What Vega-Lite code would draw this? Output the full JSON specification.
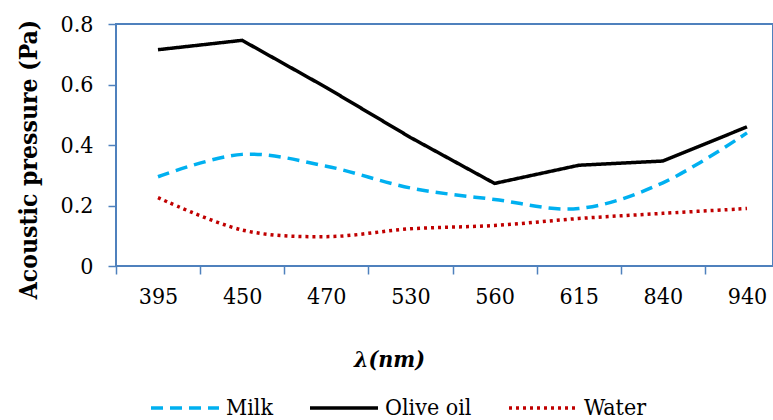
{
  "$schema": "https://vega.github.io/schema/vega-lite/v6.json",
  "width": 657,
  "height": 242,
  "autosize": {"type": "none"},
  "padding": {"left": 116, "top": 24, "right": 0, "bottom": 154},
  "background": "white",
  "config": {
    "view": {"stroke": "#4f81bd", "strokeWidth": 2},
    "font": "DejaVu Serif Condensed"
  },
  "data": {
    "values": [
      {"wavelength": "395", "series": "Olive oil", "pressure": 0.715},
      {"wavelength": "450", "series": "Olive oil", "pressure": 0.746},
      {"wavelength": "470", "series": "Olive oil", "pressure": 0.59},
      {"wavelength": "530", "series": "Olive oil", "pressure": 0.425},
      {"wavelength": "560", "series": "Olive oil", "pressure": 0.273},
      {"wavelength": "615", "series": "Olive oil", "pressure": 0.333},
      {"wavelength": "840", "series": "Olive oil", "pressure": 0.347},
      {"wavelength": "940", "series": "Olive oil", "pressure": 0.46},
      {"wavelength": "395", "series": "Milk", "pressure": 0.295},
      {"wavelength": "450", "series": "Milk", "pressure": 0.369},
      {"wavelength": "470", "series": "Milk", "pressure": 0.33},
      {"wavelength": "530", "series": "Milk", "pressure": 0.258},
      {"wavelength": "560", "series": "Milk", "pressure": 0.22},
      {"wavelength": "615", "series": "Milk", "pressure": 0.19},
      {"wavelength": "840", "series": "Milk", "pressure": 0.275},
      {"wavelength": "940", "series": "Milk", "pressure": 0.44},
      {"wavelength": "395", "series": "Water", "pressure": 0.226},
      {"wavelength": "450", "series": "Water", "pressure": 0.119},
      {"wavelength": "470", "series": "Water", "pressure": 0.097},
      {"wavelength": "530", "series": "Water", "pressure": 0.123},
      {"wavelength": "560", "series": "Water", "pressure": 0.134},
      {"wavelength": "615", "series": "Water", "pressure": 0.157},
      {"wavelength": "840", "series": "Water", "pressure": 0.174},
      {"wavelength": "940", "series": "Water", "pressure": 0.19}
    ]
  },
  "encoding": {
    "x": {
      "field": "wavelength",
      "type": "ordinal",
      "sort": ["395", "450", "470", "530", "560", "615", "840", "940"],
      "scale": {"type": "point", "range": [42, 631], "padding": 0},
      "axis": {
        "domain": false,
        "ticks": true,
        "tickColor": "#4f81bd",
        "tickWidth": 1.5,
        "tickSize": 8,
        "tickOffset": -42,
        "labelOffset": 42,
        "labelAngle": 0,
        "labelFontSize": 23,
        "labelColor": "black",
        "labelPadding": 11,
        "grid": false,
        "title": "λ(nm)",
        "titleFontSize": 23,
        "titleFontStyle": "italic",
        "titleFontWeight": "bold",
        "titleColor": "black",
        "titlePadding": 40,
        "titleX": 273
      }
    },
    "y": {
      "field": "pressure",
      "type": "quantitative",
      "scale": {"domain": [0, 0.8]},
      "axis": {
        "values": [0, 0.2, 0.4, 0.6, 0.8],
        "format": "~g",
        "domain": false,
        "grid": false,
        "tickColor": "#4f81bd",
        "tickWidth": 1.5,
        "tickSize": 8,
        "labelFontSize": 23,
        "labelColor": "black",
        "labelPadding": 15,
        "title": "Acoustic pressure (Pa)",
        "titleFontSize": 24.5,
        "titleFontWeight": "bold",
        "titleColor": "black",
        "titlePadding": 19,
        "titleY": 135
      }
    },
    "color": {
      "field": "series",
      "type": "nominal",
      "scale": {"domain": ["Milk", "Olive oil", "Water"], "range": ["#00b0f0", "#000000", "#c00000"]},
      "legend": {
        "orient": "none",
        "direction": "horizontal",
        "legendX": 33,
        "legendY": 348,
        "title": null,
        "symbolType": "stroke",
        "symbolSize": 4624,
        "symbolStrokeWidth": 3.5,
        "labelFontSize": 23,
        "labelColor": "black",
        "labelOffset": 5,
        "columnPadding": 30,
        "labelLimit": 300
      }
    },
    "strokeDash": {
      "field": "series",
      "type": "nominal",
      "scale": {"domain": ["Milk", "Olive oil", "Water"], "range": [[12, 7], [1, 0], [3, 4]]},
      "legend": null
    }
  },
  "layer": [
    {
      "transform": [{"filter": "datum.series === 'Olive oil'"}],
      "mark": {"type": "line", "strokeWidth": 3.5}
    },
    {
      "transform": [{"filter": "datum.series !== 'Olive oil'"}],
      "mark": {"type": "line", "interpolate": "cardinal", "strokeWidth": 3.5}
    }
  ]
}
